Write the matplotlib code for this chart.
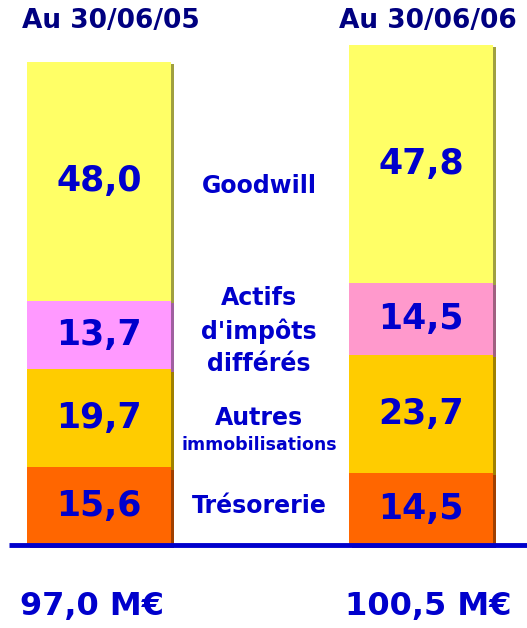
import matplotlib.pyplot as plt
from matplotlib.patches import Rectangle

dates = ['Au 30/06/05', 'Au 30/06/06']
totals = ['97,0 M€', '100,5 M€']
categories = ['Trésorerie', 'Autres\nimmobilisations', "Actifs\nd'impôts\ndifférés", 'Goodwill']
tresorerie = [15.6, 14.5]
autres = [19.7, 23.7]
actifs = [13.7, 14.5]
goodwill = [48.0, 47.8]

series = [tresorerie, autres, actifs, goodwill]
colors = [['#FF6600', '#FF6600'], ['#FFCC00', '#FFCC00'],
          ['#FF99FF', '#FF99CC'], ['#FFFF66', '#FFFF66']]
shadows = [['#A04000', '#A04000'], ['#A08000', '#A08000'],
           ['#A060A0', '#A06080'], ['#A0A040', '#A0A040']]

plt.rcParams['font.family'] = 'DejaVu Sans'
fig = plt.figure(figsize=(5.27, 6.28), dpi=100)
ax = fig.add_axes([0, 0, 1, 1])
ax.axis('off')
# pixels: x 0..527, value 0 at 545 px from top, ~4.98 px per unit
scale = 4.98
ax.set_xlim(0, 527)
ax.set_ylim(-(628 - 545) / scale, 545 / scale)

xc = [99, 421]
title_x = [111, 428]
total_x = [92, 428]
w = 144
dx = 2.5
dy = 2.5 / scale
for i in range(2):
    bottom = 0
    for k, s in enumerate(series):
        v = s[i]
        ax.add_patch(Rectangle((xc[i] - w / 2 + dx, bottom - dy), w, v,
                               color=shadows[k][i], lw=0, zorder=1))
        ax.add_patch(Rectangle((xc[i] - w / 2, bottom), w, v,
                               color=colors[k][i], lw=0, zorder=2))
        lab = f'{v:.1f}'.replace('.', ',')
        ax.text(xc[i], bottom + v / 2, lab, ha='center', va='center',
                fontsize=25, fontweight='bold', color='#0000CC', zorder=3)
        bottom += v
    ax.text(title_x[i], (545 - 21) / scale, dates[i], ha='center', va='center',
            fontsize=19, fontweight='bold', color='#000080')
    ax.text(total_x[i], -(607 - 545) / scale, totals[i], ha='center',
            va='center', fontsize=23, fontweight='bold', color='#0000CC')

# baseline
ax.plot([9, 527], [0, 0], color='#0000CC', lw=3.5, zorder=4,
        solid_capstyle='butt')

mid = 259
lab_kw = dict(ha='center', va='center', fontweight='bold', color='#0000CC')
ax.text(mid, (545 - 506) / scale, 'Trésorerie', fontsize=17, **lab_kw)
ax.text(mid, (545 - 418) / scale, 'Autres', fontsize=17, **lab_kw)
ax.text(mid, (545 - 445) / scale, 'immobilisations', fontsize=12.5, **lab_kw)
ax.text(mid, (545 - 331) / scale, "Actifs\nd'impôts\ndifférés", fontsize=17,
        linespacing=1.4, **lab_kw)
ax.text(mid, (545 - 186) / scale, 'Goodwill', fontsize=17, **lab_kw)

fig.savefig('out.png', dpi=100)
